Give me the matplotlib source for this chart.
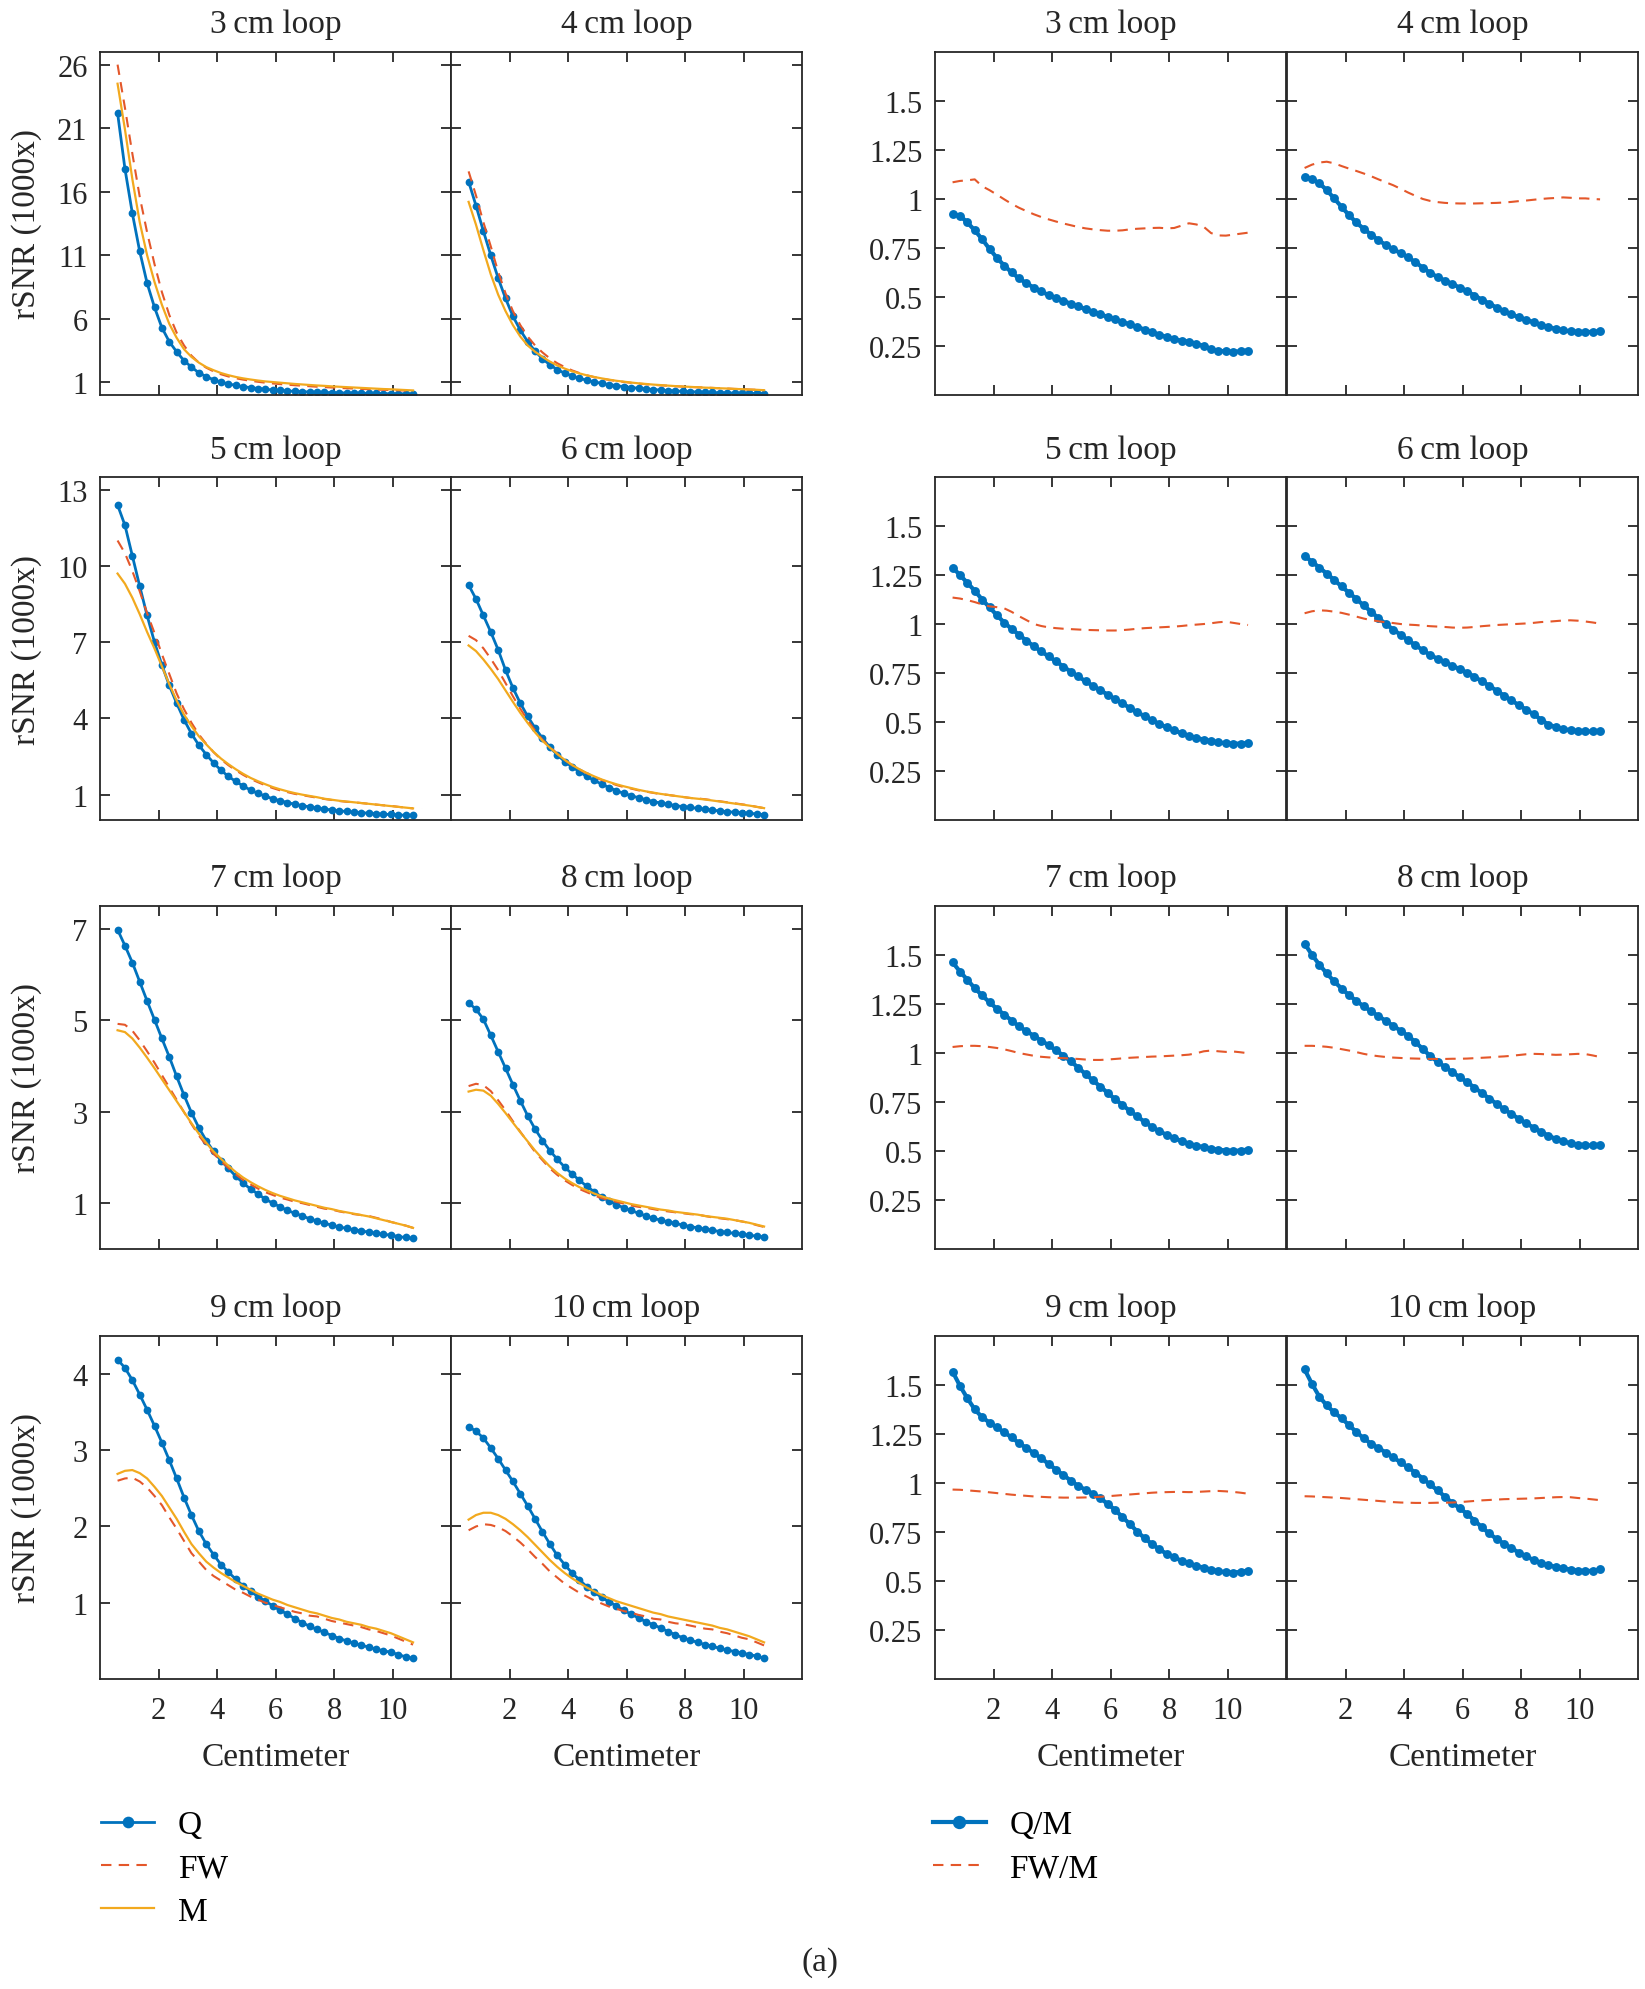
import numpy as np
import matplotlib
matplotlib.use("Agg")
import matplotlib.pyplot as plt

plt.rcParams["font.family"] = ["Liberation Serif", "DejaVu Serif"]

# distance along the loop axis (cm)
x = np.linspace(0.6, 10.7, 41)
loops = [3, 4, 5, 6, 7, 8, 9, 10]

# rSNR (1000x): Q, FW, M for each loop size
q3 = [22.2, 17.8, 14.3, 11.3, 8.8, 6.9, 5.3, 4.2, 3.4, 2.7, 2.2, 1.75, 1.45, 1.2, 1.02, 0.87, 0.76, 0.66, 0.58, 0.51, 0.45, 0.40, 0.36, 0.32, 0.29, 0.26, 0.24, 0.22, 0.20, 0.19, 0.17, 0.16, 0.15, 0.14, 0.13, 0.12, 0.11, 0.10, 0.10, 0.09, 0.08]
fw3 = [26.0, 22.6, 19.0, 15.6, 12.8, 10.3, 8.1, 6.3, 4.9, 3.9, 3.1, 2.55, 2.15, 1.86, 1.63, 1.46, 1.32, 1.21, 1.12, 1.04, 0.97, 0.91, 0.86, 0.81, 0.77, 0.73, 0.69, 0.65, 0.62, 0.59, 0.56, 0.53, 0.51, 0.48, 0.46, 0.43, 0.41, 0.39, 0.37, 0.35, 0.33]
m3 = [24.5, 20.9, 17.0, 13.6, 11.0, 8.9, 7.1, 5.6, 4.5, 3.6, 3.0, 2.55, 2.2, 1.95, 1.73, 1.56, 1.42, 1.31, 1.22, 1.14, 1.07, 1.02, 0.97, 0.92, 0.87, 0.83, 0.79, 0.75, 0.72, 0.68, 0.65, 0.62, 0.59, 0.56, 0.53, 0.50, 0.47, 0.45, 0.42, 0.39, 0.36]

q4 = [16.8, 14.9, 12.9, 11.0, 9.2, 7.6, 6.2, 5.1, 4.2, 3.45, 2.85, 2.38, 2.0, 1.72, 1.5, 1.32, 1.16, 1.03, 0.92, 0.82, 0.74, 0.66, 0.59, 0.53, 0.48, 0.43, 0.39, 0.35, 0.32, 0.29, 0.26, 0.24, 0.22, 0.20, 0.18, 0.17, 0.15, 0.14, 0.13, 0.12, 0.11]
fw4 = [17.6, 15.7, 13.6, 11.7, 9.7, 8.0, 6.6, 5.5, 4.6, 3.9, 3.35, 2.88, 2.5, 2.2, 1.94, 1.73, 1.55, 1.41, 1.29, 1.19, 1.10, 1.03, 0.96, 0.90, 0.85, 0.80, 0.76, 0.73, 0.69, 0.66, 0.63, 0.61, 0.58, 0.56, 0.53, 0.51, 0.48, 0.46, 0.43, 0.41, 0.38]
m4 = [15.2, 13.4, 11.4, 9.5, 7.9, 6.6, 5.5, 4.6, 3.9, 3.4, 3.0, 2.63, 2.33, 2.08, 1.87, 1.70, 1.55, 1.42, 1.31, 1.21, 1.12, 1.05, 0.98, 0.92, 0.87, 0.82, 0.78, 0.74, 0.70, 0.67, 0.64, 0.61, 0.58, 0.56, 0.53, 0.51, 0.48, 0.46, 0.43, 0.41, 0.38]

q5 = [12.4, 11.6, 10.4, 9.2, 8.05, 7.0, 6.1, 5.3, 4.6, 3.95, 3.4, 2.95, 2.58, 2.25, 1.96, 1.72, 1.52, 1.34, 1.18, 1.05, 0.94, 0.84, 0.76, 0.69, 0.62, 0.57, 0.52, 0.47, 0.43, 0.40, 0.36, 0.34, 0.31, 0.29, 0.27, 0.25, 0.23, 0.22, 0.20, 0.19, 0.18]
fw5 = [11.0, 10.5, 9.8, 9.0, 8.14, 7.36, 6.53, 5.75, 4.98, 4.36, 3.83, 3.37, 3.0, 2.67, 2.39, 2.16, 1.96, 1.78, 1.62, 1.49, 1.37, 1.26, 1.17, 1.10, 1.03, 0.98, 0.93, 0.88, 0.83, 0.79, 0.75, 0.72, 0.70, 0.67, 0.64, 0.61, 0.58, 0.56, 0.52, 0.49, 0.46]
m5 = [9.7, 9.3, 8.75, 8.1, 7.4, 6.75, 6.05, 5.35, 4.7, 4.15, 3.7, 3.3, 2.98, 2.68, 2.42, 2.2, 2.0, 1.82, 1.66, 1.53, 1.41, 1.3, 1.21, 1.13, 1.06, 1.0, 0.95, 0.9, 0.84, 0.8, 0.76, 0.73, 0.7, 0.67, 0.64, 0.61, 0.58, 0.55, 0.52, 0.49, 0.46]

q6 = [9.25, 8.7, 8.05, 7.4, 6.7, 5.9, 5.2, 4.6, 4.08, 3.62, 3.22, 2.87, 2.57, 2.3, 2.1, 1.9, 1.72, 1.56, 1.42, 1.28, 1.16, 1.05, 0.96, 0.88, 0.8, 0.73, 0.67, 0.62, 0.57, 0.53, 0.5, 0.46, 0.42, 0.39, 0.36, 0.33, 0.31, 0.29, 0.27, 0.24, 0.21]
fw6 = [7.25, 7.08, 6.76, 6.35, 5.9, 5.39, 4.87, 4.38, 3.93, 3.52, 3.16, 2.88, 2.61, 2.37, 2.16, 1.99, 1.84, 1.7, 1.58, 1.48, 1.38, 1.3, 1.24, 1.17, 1.12, 1.07, 1.02, 0.99, 0.95, 0.91, 0.87, 0.85, 0.82, 0.78, 0.74, 0.7, 0.66, 0.62, 0.58, 0.52, 0.47]
m6 = [6.87, 6.65, 6.32, 5.95, 5.55, 5.1, 4.65, 4.22, 3.82, 3.45, 3.12, 2.85, 2.6, 2.37, 2.17, 2.0, 1.85, 1.72, 1.6, 1.5, 1.41, 1.33, 1.26, 1.19, 1.13, 1.08, 1.03, 0.99, 0.95, 0.91, 0.87, 0.84, 0.81, 0.77, 0.73, 0.69, 0.65, 0.61, 0.57, 0.52, 0.47]

q7 = [6.98, 6.63, 6.26, 5.84, 5.42, 5.01, 4.6, 4.2, 3.77, 3.36, 2.98, 2.65, 2.37, 2.13, 1.93, 1.76, 1.59, 1.44, 1.31, 1.2, 1.09, 1.0, 0.92, 0.84, 0.78, 0.72, 0.66, 0.61, 0.56, 0.52, 0.48, 0.45, 0.42, 0.39, 0.37, 0.34, 0.32, 0.3, 0.27, 0.25, 0.23]
fw7 = [4.92, 4.9, 4.77, 4.56, 4.32, 4.07, 3.8, 3.53, 3.26, 2.99, 2.73, 2.48, 2.27, 2.08, 1.92, 1.77, 1.63, 1.51, 1.41, 1.32, 1.24, 1.18, 1.12, 1.08, 1.03, 1.0, 0.96, 0.92, 0.88, 0.86, 0.82, 0.79, 0.76, 0.74, 0.72, 0.68, 0.64, 0.59, 0.55, 0.51, 0.46]
m7 = [4.78, 4.74, 4.6, 4.4, 4.18, 3.95, 3.71, 3.47, 3.23, 2.99, 2.75, 2.52, 2.32, 2.13, 1.97, 1.82, 1.68, 1.56, 1.46, 1.37, 1.29, 1.22, 1.16, 1.11, 1.06, 1.02, 0.98, 0.94, 0.9, 0.87, 0.83, 0.8, 0.77, 0.74, 0.71, 0.67, 0.63, 0.59, 0.55, 0.51, 0.46]

q8 = [5.38, 5.24, 5.02, 4.67, 4.31, 3.95, 3.59, 3.24, 2.91, 2.62, 2.37, 2.15, 1.96, 1.79, 1.64, 1.5, 1.37, 1.25, 1.14, 1.05, 0.97, 0.9, 0.84, 0.78, 0.72, 0.67, 0.63, 0.59, 0.56, 0.52, 0.49, 0.46, 0.43, 0.41, 0.38, 0.36, 0.34, 0.32, 0.3, 0.28, 0.26]
fw8 = [3.56, 3.61, 3.58, 3.45, 3.25, 3.03, 2.79, 2.56, 2.34, 2.12, 1.94, 1.76, 1.62, 1.5, 1.4, 1.31, 1.24, 1.17, 1.11, 1.07, 1.03, 0.99, 0.95, 0.92, 0.9, 0.87, 0.84, 0.82, 0.8, 0.78, 0.76, 0.75, 0.72, 0.69, 0.67, 0.65, 0.63, 0.6, 0.57, 0.52, 0.48]
m8 = [3.44, 3.48, 3.46, 3.35, 3.17, 2.97, 2.76, 2.55, 2.35, 2.15, 1.97, 1.8, 1.66, 1.54, 1.44, 1.35, 1.28, 1.21, 1.15, 1.1, 1.06, 1.02, 0.98, 0.95, 0.92, 0.89, 0.86, 0.84, 0.81, 0.79, 0.77, 0.75, 0.72, 0.7, 0.68, 0.66, 0.63, 0.6, 0.57, 0.53, 0.49]

q9 = [4.19, 4.08, 3.92, 3.73, 3.53, 3.32, 3.1, 2.87, 2.63, 2.38, 2.15, 1.94, 1.77, 1.63, 1.5, 1.4, 1.31, 1.22, 1.15, 1.08, 1.02, 0.96, 0.9, 0.85, 0.79, 0.74, 0.69, 0.65, 0.61, 0.57, 0.53, 0.5, 0.47, 0.44, 0.42, 0.39, 0.37, 0.35, 0.32, 0.29, 0.27]
fw9 = [2.6, 2.63, 2.64, 2.59, 2.51, 2.4, 2.28, 2.12, 1.97, 1.81, 1.65, 1.54, 1.43, 1.35, 1.29, 1.23, 1.17, 1.13, 1.08, 1.04, 1.0, 0.97, 0.94, 0.91, 0.88, 0.86, 0.83, 0.82, 0.79, 0.76, 0.74, 0.72, 0.7, 0.68, 0.65, 0.63, 0.6, 0.57, 0.53, 0.49, 0.45]
m9 = [2.69, 2.73, 2.74, 2.7, 2.63, 2.52, 2.4, 2.25, 2.1, 1.93, 1.77, 1.65, 1.54, 1.46, 1.39, 1.33, 1.27, 1.22, 1.17, 1.12, 1.08, 1.04, 1.01, 0.97, 0.94, 0.91, 0.88, 0.86, 0.83, 0.8, 0.78, 0.75, 0.73, 0.71, 0.68, 0.66, 0.63, 0.6, 0.56, 0.52, 0.48]

q10 = [3.31, 3.25, 3.16, 3.03, 2.89, 2.74, 2.59, 2.43, 2.27, 2.1, 1.93, 1.77, 1.62, 1.5, 1.39, 1.3, 1.21, 1.14, 1.07, 1.01, 0.96, 0.9, 0.85, 0.8, 0.75, 0.71, 0.67, 0.62, 0.58, 0.54, 0.51, 0.48, 0.45, 0.43, 0.4, 0.38, 0.36, 0.34, 0.32, 0.3, 0.27]
fw10 = [1.95, 2.0, 2.03, 2.02, 1.99, 1.94, 1.87, 1.79, 1.7, 1.6, 1.51, 1.41, 1.33, 1.25, 1.19, 1.13, 1.08, 1.03, 0.99, 0.95, 0.92, 0.89, 0.87, 0.84, 0.82, 0.79, 0.78, 0.75, 0.73, 0.72, 0.7, 0.68, 0.66, 0.65, 0.62, 0.6, 0.57, 0.54, 0.52, 0.48, 0.44]
m10 = [2.09, 2.15, 2.18, 2.18, 2.15, 2.1, 2.03, 1.95, 1.86, 1.76, 1.66, 1.56, 1.47, 1.39, 1.32, 1.26, 1.2, 1.15, 1.1, 1.06, 1.02, 0.99, 0.96, 0.93, 0.9, 0.87, 0.85, 0.82, 0.8, 0.78, 0.76, 0.74, 0.72, 0.7, 0.67, 0.65, 0.62, 0.59, 0.56, 0.52, 0.48]

# ratios to M
qm3 = [0.922, 0.915, 0.88, 0.84, 0.795, 0.745, 0.7, 0.66, 0.625, 0.595, 0.57, 0.548, 0.528, 0.51, 0.495, 0.48, 0.466, 0.452, 0.438, 0.425, 0.412, 0.398, 0.386, 0.373, 0.36, 0.347, 0.334, 0.321, 0.308, 0.296, 0.284, 0.277, 0.272, 0.262, 0.25, 0.234, 0.226, 0.222, 0.221, 0.223, 0.227]
fwm3 = [1.085, 1.092, 1.095, 1.1, 1.065, 1.045, 1.022, 0.998, 0.975, 0.955, 0.938, 0.922, 0.908, 0.896, 0.885, 0.875, 0.866, 0.857, 0.85, 0.845, 0.841, 0.838, 0.838, 0.84, 0.845, 0.848, 0.85, 0.852, 0.853, 0.85, 0.852, 0.864, 0.876, 0.87, 0.858, 0.826, 0.814, 0.813, 0.818, 0.823, 0.828]
qm4 = [1.11, 1.102, 1.08, 1.045, 1.003, 0.96, 0.918, 0.88, 0.848, 0.818, 0.79, 0.765, 0.743, 0.724, 0.703, 0.677, 0.65, 0.623, 0.602, 0.584, 0.566, 0.548, 0.53, 0.507, 0.487, 0.466, 0.446, 0.428, 0.411, 0.397, 0.384, 0.371, 0.358, 0.347, 0.337, 0.33, 0.325, 0.322, 0.321, 0.322, 0.325]
fwm4 = [1.158, 1.175, 1.186, 1.19, 1.182, 1.168, 1.155, 1.143, 1.13, 1.116, 1.1, 1.085, 1.07, 1.052, 1.033, 1.016, 1.0, 0.99, 0.984, 0.98, 0.978, 0.977, 0.977, 0.977, 0.978, 0.979, 0.98, 0.982, 0.985, 0.989, 0.992, 0.996, 1.0, 1.003, 1.005, 1.008, 1.006, 1.003, 1.003, 1.0, 0.998]
qm5 = [1.288, 1.25, 1.21, 1.17, 1.125, 1.085, 1.045, 1.007, 0.975, 0.945, 0.915, 0.887, 0.86, 0.835, 0.81, 0.783, 0.757, 0.733, 0.708, 0.685, 0.662, 0.64, 0.617, 0.595, 0.572, 0.55, 0.53, 0.51, 0.49, 0.473, 0.457, 0.443, 0.43, 0.42, 0.41, 0.402, 0.396, 0.392, 0.39, 0.39, 0.393]
fwm5 = [1.135, 1.13, 1.122, 1.112, 1.1, 1.09, 1.086, 1.08, 1.062, 1.04, 1.02, 1.0, 0.99, 0.983, 0.979, 0.976, 0.974, 0.972, 0.97, 0.969, 0.968, 0.967, 0.967, 0.969, 0.972, 0.976, 0.979, 0.981, 0.983, 0.985, 0.987, 0.99, 0.994, 0.997, 1.0, 1.004, 1.009, 1.012, 1.006, 1.0, 0.995]
qm6 = [1.347, 1.318, 1.288, 1.257, 1.225, 1.192, 1.16, 1.128, 1.095, 1.063, 1.03, 1.0, 0.972, 0.945, 0.918, 0.892, 0.867, 0.842, 0.823, 0.805, 0.787, 0.77, 0.752, 0.731, 0.708, 0.685, 0.66, 0.635, 0.61, 0.587, 0.563, 0.54, 0.513, 0.487, 0.475, 0.465, 0.458, 0.454, 0.452, 0.452, 0.455]
fwm6 = [1.055, 1.065, 1.07, 1.068, 1.063, 1.057, 1.048, 1.038, 1.028, 1.02, 1.014, 1.009, 1.005, 1.0, 0.997, 0.995, 0.992, 0.989, 0.987, 0.985, 0.982, 0.981, 0.982, 0.985, 0.989, 0.992, 0.995, 0.997, 0.999, 1.001, 1.003, 1.006, 1.01, 1.012, 1.015, 1.018, 1.019, 1.017, 1.013, 1.008, 1.002]
qm7 = [1.462, 1.415, 1.373, 1.33, 1.293, 1.258, 1.225, 1.195, 1.165, 1.135, 1.111, 1.087, 1.063, 1.039, 1.013, 0.986, 0.957, 0.925, 0.892, 0.86, 0.828, 0.796, 0.764, 0.734, 0.704, 0.676, 0.648, 0.622, 0.6, 0.582, 0.565, 0.55, 0.537, 0.527, 0.519, 0.512, 0.506, 0.502, 0.5, 0.502, 0.507]
fwm7 = [1.03, 1.034, 1.036, 1.036, 1.034, 1.03, 1.025, 1.018, 1.009, 0.999, 0.992, 0.985, 0.98, 0.977, 0.975, 0.973, 0.971, 0.969, 0.966, 0.964, 0.964, 0.966, 0.969, 0.972, 0.975, 0.977, 0.979, 0.981, 0.982, 0.984, 0.986, 0.988, 0.991, 0.998, 1.008, 1.012, 1.008, 1.005, 1.007, 1.003, 0.998]
qm8 = [1.557, 1.5, 1.45, 1.405, 1.365, 1.328, 1.295, 1.265, 1.238, 1.212, 1.188, 1.163, 1.138, 1.113, 1.087, 1.055, 1.02, 0.984, 0.955, 0.928, 0.902, 0.876, 0.851, 0.823, 0.795, 0.767, 0.74, 0.713, 0.688, 0.664, 0.641, 0.619, 0.598, 0.578, 0.561, 0.548, 0.539, 0.532, 0.528, 0.528, 0.532]
fwm8 = [1.036, 1.036, 1.034, 1.031, 1.026, 1.019, 1.012, 1.004, 0.995, 0.988, 0.983, 0.979, 0.976, 0.974, 0.972, 0.971, 0.97, 0.969, 0.969, 0.969, 0.97, 0.97, 0.971, 0.973, 0.975, 0.977, 0.98, 0.982, 0.985, 0.989, 0.993, 0.995, 0.994, 0.992, 0.99, 0.991, 0.993, 0.995, 0.994, 0.987, 0.979]
qm9 = [1.568, 1.495, 1.432, 1.375, 1.335, 1.308, 1.283, 1.258, 1.232, 1.203, 1.178, 1.152, 1.126, 1.097, 1.068, 1.04, 1.012, 0.985, 0.965, 0.945, 0.922, 0.893, 0.862, 0.826, 0.79, 0.752, 0.718, 0.688, 0.661, 0.638, 0.62, 0.603, 0.59, 0.577, 0.568, 0.558, 0.55, 0.545, 0.543, 0.546, 0.553]
fwm9 = [0.966, 0.965, 0.962, 0.959, 0.956, 0.952, 0.948, 0.944, 0.94, 0.937, 0.934, 0.931, 0.929, 0.927, 0.926, 0.925, 0.925, 0.925, 0.926, 0.927, 0.929, 0.932, 0.935, 0.938, 0.941, 0.944, 0.947, 0.95, 0.952, 0.953, 0.954, 0.954, 0.953, 0.954, 0.956, 0.958, 0.959, 0.957, 0.954, 0.95, 0.945]
qm10 = [1.579, 1.505, 1.44, 1.395, 1.36, 1.33, 1.295, 1.26, 1.228, 1.2, 1.178, 1.155, 1.13, 1.105, 1.08, 1.052, 1.022, 0.992, 0.962, 0.93, 0.898, 0.871, 0.842, 0.808, 0.774, 0.742, 0.714, 0.69, 0.667, 0.645, 0.625, 0.607, 0.592, 0.58, 0.572, 0.565, 0.558, 0.553, 0.55, 0.552, 0.559]
fwm10 = [0.932, 0.931, 0.929, 0.927, 0.925, 0.923, 0.92, 0.917, 0.914, 0.911, 0.908, 0.905, 0.902, 0.9, 0.899, 0.898, 0.898, 0.898, 0.899, 0.899, 0.9, 0.902, 0.905, 0.908, 0.911, 0.913, 0.915, 0.917, 0.918, 0.919, 0.92, 0.921, 0.923, 0.925, 0.927, 0.928, 0.927, 0.923, 0.92, 0.916, 0.912]

snr = {3: (q3, fw3, m3), 4: (q4, fw4, m4), 5: (q5, fw5, m5), 6: (q6, fw6, m6),
       7: (q7, fw7, m7), 8: (q8, fw8, m8), 9: (q9, fw9, m9), 10: (q10, fw10, m10)}
ratio = {3: (qm3, fwm3), 4: (qm4, fwm4), 5: (qm5, fwm5), 6: (qm6, fwm6),
         7: (qm7, fwm7), 8: (qm8, fwm8), 9: (qm9, fwm9), 10: (qm10, fwm10)}

row_ylim = [(0, 27), (0, 13.5), (0, 7.5), (0, 4.5)]
row_yticks = [[1, 6, 11, 16, 21, 26], [1, 4, 7, 10, 13], [1, 3, 5, 7], [1, 2, 3, 4]]
ratio_ticks = [0.25, 0.5, 0.75, 1, 1.25, 1.5]
ratio_labels = ["0.25", "0.5", "0.75", "1", "1.25", "1.5"]
x_ticks = [2, 4, 6, 8, 10]

BLUE = "#0072BD"
RED = "#E4572A"
ORANGE = "#F2A91E"
DARK = "#262626"

fig = plt.figure(figsize=(16.45, 19.9), dpi=100)

col_left = [0.0608, 0.2742, 0.5684, 0.7824]
row_bottom = [0.8010, 0.5874, 0.3719, 0.1558]
w, h = 0.2134, 0.1724


def style(ax, show_y, show_x):
    for s in ax.spines.values():
        s.set_color(DARK)
        s.set_linewidth(1.3)
    ax.tick_params(direction="in", top=True, right=True, length=7, width=1.3,
                   color=DARK, labelsize=22, labelcolor=DARK)
    ax.tick_params(axis="y", pad=9, labelleft=show_y)
    ax.tick_params(axis="x", pad=12, labelbottom=show_x)
    ax.set_xlim(0, 12)
    ax.set_xticks(x_ticks)


snr_handles = None
ratio_handles = None
for i, n in enumerate(loops):
    r, c = divmod(i, 2)
    # rSNR panel
    ax = fig.add_axes([col_left[c], row_bottom[r], w, h])
    q, fw, m = snr[n]
    l1, = ax.plot(x, q, color=BLUE, lw=2.0, marker="o", ms=5.6, mew=0)
    l2, = ax.plot(x, fw, color=RED, lw=1.5, ls=(0, (5, 3.5)))
    l3, = ax.plot(x, m, color=ORANGE, lw=1.6)
    ax.set_ylim(*row_ylim[r])
    ax.set_yticks(row_yticks[r])
    style(ax, c == 0, r == 3)
    ax.set_title(f"{n}\u2009cm loop", fontsize=24, pad=14, color=DARK)
    if c == 0:
        ax.set_ylabel("rSNR (1000x)", fontsize=24, color=DARK)
        ax.yaxis.set_label_coords(-0.165, 0.5)
    if r == 3:
        ax.set_xlabel("Centimeter", fontsize=24, labelpad=12, color=DARK)
    snr_handles = [l1, l2, l3]

    # ratio panel
    ax = fig.add_axes([col_left[c + 2], row_bottom[r], w, h])
    qm, fwm = ratio[n]
    k1, = ax.plot(x, qm, color=BLUE, lw=3.0, marker="o", ms=6.4, mew=0)
    k2, = ax.plot(x, fwm, color=RED, lw=1.5, ls=(0, (5, 3.5)))
    ax.set_ylim(0, 1.75)
    ax.set_yticks(ratio_ticks)
    ax.set_yticklabels(ratio_labels)
    style(ax, c == 0, r == 3)
    ax.set_title(f"{n}\u2009cm loop", fontsize=24, pad=14, color=DARK)
    if r == 3:
        ax.set_xlabel("Centimeter", fontsize=24, labelpad=12, color=DARK)
    ratio_handles = [k1, k2]

leg_kw = dict(loc="upper left", frameon=False, fontsize=24, handlelength=1.6,
              handletextpad=0.7, labelspacing=0.38, borderaxespad=0, borderpad=0,
              markerscale=1.5)
fig.legend(snr_handles, ["Q", "FW", "M"], bbox_to_anchor=(0.0614, 0.090), **leg_kw)
fig.legend(ratio_handles, ["Q/M", "FW/M"], bbox_to_anchor=(0.567, 0.090), **leg_kw)

fig.text(0.4985, 0.014, "(a)", ha="center", va="center", fontsize=24, color=DARK)

fig.savefig("out.png", dpi=100, facecolor="white")
